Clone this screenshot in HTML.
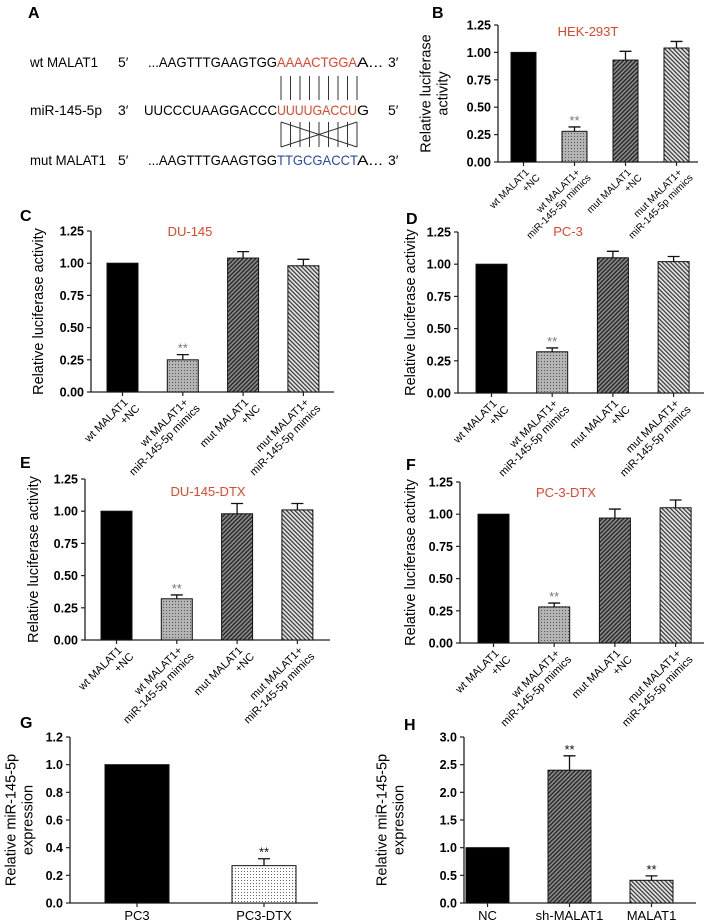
<!DOCTYPE html>
<html><head><meta charset="utf-8"><style>
html,body{margin:0;padding:0;background:#fff}
svg{display:block;font-family:"Liberation Sans",sans-serif}
</style></head><body>
<svg id="fig" width="709" height="924" viewBox="0 0 709 924">
<defs>
<pattern id="dots" width="3" height="3" patternUnits="userSpaceOnUse"><rect width="3" height="3" fill="#b4b4b4"/><rect x="1" y="1" width="1" height="1" fill="#555"/></pattern>
<pattern id="wdots" width="3" height="3" patternUnits="userSpaceOnUse"><rect width="3" height="3" fill="#fff"/><rect x="1" y="1" width="1" height="1" fill="#666"/></pattern>
<pattern id="hdark" width="3" height="3" patternUnits="userSpaceOnUse" patternTransform="rotate(45)"><rect width="3" height="3" fill="#8a8a8a"/><rect width="1.3" height="3" fill="#222"/></pattern>
<pattern id="hlight" width="3" height="3" patternUnits="userSpaceOnUse" patternTransform="rotate(-45)"><rect width="3" height="3" fill="#e4e4e4"/><rect width="1.2" height="3" fill="#333"/></pattern>
</defs>

<g font-size="14">
<text x="28" y="18" font-weight="bold" font-size="16">A</text>
<text x="30" y="67" textLength="68" lengthAdjust="spacingAndGlyphs">wt MALAT1</text>
<text x="118" y="67">5′</text>
<text x="148" y="67"><tspan textLength="129" lengthAdjust="spacingAndGlyphs">...AAGTTTGAAGTGG</tspan><tspan fill="#e5442b" textLength="80" lengthAdjust="spacingAndGlyphs">AAAACTGGA</tspan><tspan textLength="26" lengthAdjust="spacingAndGlyphs">A...</tspan></text>
<text x="388" y="67">3′</text>
<text x="30" y="115" textLength="72" lengthAdjust="spacingAndGlyphs">miR-145-5p</text>
<text x="118" y="115">3′</text>
<text x="144" y="115"><tspan textLength="133" lengthAdjust="spacingAndGlyphs">UUCCCUAAGGACCC</tspan><tspan fill="#e5442b" textLength="80" lengthAdjust="spacingAndGlyphs">UUUUGACCU</tspan><tspan textLength="12" lengthAdjust="spacingAndGlyphs">G</tspan></text>
<text x="388" y="115">5′</text>
<text x="30" y="165" textLength="76" lengthAdjust="spacingAndGlyphs">mut MALAT1</text>
<text x="118" y="165">5′</text>
<text x="148" y="165"><tspan textLength="129" lengthAdjust="spacingAndGlyphs">...AAGTTTGAAGTGG</tspan><tspan fill="#2b4aa8" textLength="80" lengthAdjust="spacingAndGlyphs">TTGCGACCT</tspan><tspan textLength="26" lengthAdjust="spacingAndGlyphs">A...</tspan></text>
<text x="388" y="165">3′</text>
<g id="pairlines" stroke="#333" stroke-width="1"></g>
</g>
<g id="charts"></g>
</svg>
<script>
// ---- data ----
const lucCategories = [["wt MALAT1","+NC"],["wt MALAT1+","miR-145-5p mimics"],["mut MALAT1","+NC"],["mut MALAT1+","miR-145-5p mimics"]];
const lucTicks = ["0.00","0.25","0.50","0.75","1.00","1.25"];
const hekValues = [1.00, 0.28, 0.93, 1.04];
const hekErrors = [0, 0.04, 0.08, 0.06];
const du145Values = [1.00, 0.25, 1.04, 0.98];
const du145Errors = [0, 0.04, 0.05, 0.05];
const pc3Values = [1.00, 0.32, 1.05, 1.02];
const pc3Errors = [0, 0.03, 0.05, 0.04];
const du145DtxValues = [1.00, 0.32, 0.98, 1.01];
const du145DtxErrors = [0, 0.03, 0.08, 0.05];
const pc3DtxValues = [1.00, 0.28, 0.97, 1.05];
const pc3DtxErrors = [0, 0.03, 0.07, 0.06];
const gCategories = [["PC3"],["PC3-DTX"]];
const gTicks = ["0.0","0.2","0.4","0.6","0.8","1.0","1.2"];
const gValues = [1.00, 0.27];
const gErrors = [0, 0.05];
const hCategories = [["NC"],["sh-MALAT1"],["MALAT1"]];
const hTicks = ["0.0","0.5","1.0","1.5","2.0","2.5","3.0"];
const hValues = [1.00, 2.40, 0.41];
const hErrors = [0, 0.26, 0.08];

const NS = "http://www.w3.org/2000/svg";
function mk(tag, attrs, parent){const e=document.createElementNS(NS,tag);for(const k in attrs)e.setAttribute(k,attrs[k]);parent.appendChild(e);return e;}

const pl=document.getElementById('pairlines');
for(let i=0;i<9;i++){const x=281+i*9.5;
  const l1=mk('line',{x1:x,y1:76,x2:x,y2:100},pl);
  
  
  const l2=mk('line',{x1:x,y1:122,x2:x,y2:147},pl);
  
  
}
const d1=mk('line',{x1:281,y1:122,x2:357,y2:147},pl);


const d2=mk('line',{x1:281,y1:147,x2:357,y2:122},pl);



const charts=document.getElementById('charts');
function panel(o){
  const g=mk('g',{},charts);
  
  
  const ticks=o.ticks, tmax=parseFloat(ticks[ticks.length-1]);
  const y=v=>o.y0-(v/tmax)*(o.y0-o.y1);
  const x=i=>o.b0+i*o.step;
  const L=mk('text',{x:o.lx,y:o.ly,'font-size':16,'font-weight':'bold'},g);L.textContent=o.letter;
  
  
  if(o.title){const t=mk('text',{x:o.tx,y:o.ty,'font-size':13,fill:'#e5442b','text-anchor':'middle'},g);t.textContent=o.title;
    
    }
  const yl=mk('text',{transform:`translate(${o.ylx},${(o.y0+o.y1)/2}) rotate(-90)`,'font-size':14.5,'text-anchor':'middle'},g);
  
  
  o.ylab.forEach((s,k)=>{const ts=mk('tspan',{x:0,y:k*17-(o.ylab.length-1)*8.5+5},yl);ts.textContent=s;});
  const ax=mk('path',{d:`M${o.ax} ${o.y1}V${o.y0}H${o.axEnd}`,stroke:'#222','stroke-width':1.3,fill:'none'},g);
  
  
  ticks.forEach(tk=>{const v=parseFloat(tk),yy=y(v);
    const tl=mk('line',{x1:o.ax-4,x2:o.ax,y1:yy,y2:yy,stroke:'#222','stroke-width':1.2},g);
    
    
    const tt=mk('text',{x:o.ax-7,y:yy+4.5,'font-size':12.5,'font-weight':'bold','text-anchor':'end'},g);tt.textContent=tk;
    
    
  });
  o.values.forEach((v,i)=>{
    const bx=x(i), top=y(v);
    const r=mk('rect',{x:bx,y:top,width:o.bw,height:o.y0-top,fill:o.fills[i],stroke:'#111','stroke-width':1},g);
    
    
    const cx=bx+o.bw/2;
    const e=o.errors[i];
    if(e>0){const ye=y(v+e);
      const eb=mk('path',{d:`M${cx} ${top}V${ye}M${cx-6} ${ye}H${cx+6}`,stroke:'#111','stroke-width':1.3,fill:'none'},g);
      
      
    }
    if(o.stars[i]){const s=mk('text',{x:cx,y:y(v+e)-2,'font-size':13,'text-anchor':'middle',fill:o.starColor},g);s.textContent='**';
      
      }
    const xt=mk('line',{x1:cx,x2:cx,y1:o.y0,y2:o.y0+4,stroke:'#222','stroke-width':1.2},g);
    
    
    let lab;
    if(o.rot){
      lab=mk('text',{transform:`translate(${cx+6},${o.y0+11}) rotate(-45)`,'font-size':o.rfs,'text-anchor':'end'},g);
      o.cats[i].forEach((s,k)=>{const ts=mk('tspan',{x:k?4:0,y:k*o.rfs*1.15},lab);ts.textContent=s;});
    } else {
      lab=mk('text',{x:cx,y:o.y0+17,'font-size':13,'text-anchor':'middle'},g);lab.textContent=o.cats[i][0];
    }
    
    
  });
}
const lucFills=['#000','url(#dots)','url(#hdark)','url(#hlight)'];
const lucStars=[0,1,0,0];
const RL=["Relative luciferase activity"];
panel({name:'panel-b-hek293t',letter:'B',lx:432,ly:18,title:'HEK-293T',tx:588,ty:36,ylab:["Relative luciferase","activity"],ylx:434,
  ax:498,axEnd:698,y0:162,y1:25,b0:511,step:51,bw:25,ticks:lucTicks,values:hekValues,errors:hekErrors,cats:lucCategories,fills:lucFills,stars:lucStars,starColor:'#777',rot:1,rfs:10});
panel({name:'panel-c-du145',letter:'C',lx:20,ly:221,title:'DU-145',tx:190,ty:236,ylab:RL,ylx:38,
  ax:91,axEnd:334,y0:392,y1:231,b0:107,step:60.3,bw:31,ticks:lucTicks,values:du145Values,errors:du145Errors,cats:lucCategories,fills:lucFills,stars:lucStars,starColor:'#777',rot:1,rfs:11});
panel({name:'panel-d-pc3',letter:'D',lx:406,ly:224,title:'PC-3',tx:568,ty:236,ylab:RL,ylx:410,
  ax:458,axEnd:704,y0:393,y1:232,b0:476,step:60.7,bw:31,ticks:lucTicks,values:pc3Values,errors:pc3Errors,cats:lucCategories,fills:lucFills,stars:lucStars,starColor:'#777',rot:1,rfs:11});
panel({name:'panel-e-du145-dtx',letter:'E',lx:20,ly:468,title:'DU-145-DTX',tx:208,ty:496,ylab:RL,ylx:33,
  ax:85,axEnd:330,y0:640,y1:479,b0:101,step:60.3,bw:31,ticks:lucTicks,values:du145DtxValues,errors:du145DtxErrors,cats:lucCategories,fills:lucFills,stars:lucStars,starColor:'#777',rot:1,rfs:11});
panel({name:'panel-f-pc3-dtx',letter:'F',lx:406,ly:470,title:'PC-3-DTX',tx:566,ty:497,ylab:RL,ylx:410,
  ax:460,axEnd:704,y0:643,y1:482,b0:478,step:60.7,bw:31,ticks:lucTicks,values:pc3DtxValues,errors:pc3DtxErrors,cats:lucCategories,fills:lucFills,stars:lucStars,starColor:'#777',rot:1,rfs:11});
panel({name:'panel-g',letter:'G',lx:20,ly:728,title:'',ylab:["Relative miR-145-5p","expression"],ylx:19,
  ax:70,axEnd:318,y0:903,y1:737,b0:105,step:127,bw:64,ticks:gTicks,values:gValues,errors:gErrors,cats:gCategories,fills:['#000','url(#wdots)'],stars:[0,1],starColor:'#111',rot:0});
panel({name:'panel-h',letter:'H',lx:404,ly:730,title:'',ylab:["Relative miR-145-5p","expression"],ylx:390,
  ax:464,axEnd:696,y0:903,y1:737,b0:466,step:82,bw:43,ticks:hTicks,values:hValues,errors:hErrors,cats:hCategories,fills:['#000','url(#hdark)','url(#hlight)'],stars:[0,1,1],starColor:'#111',rot:0});
</script>
</body></html>
